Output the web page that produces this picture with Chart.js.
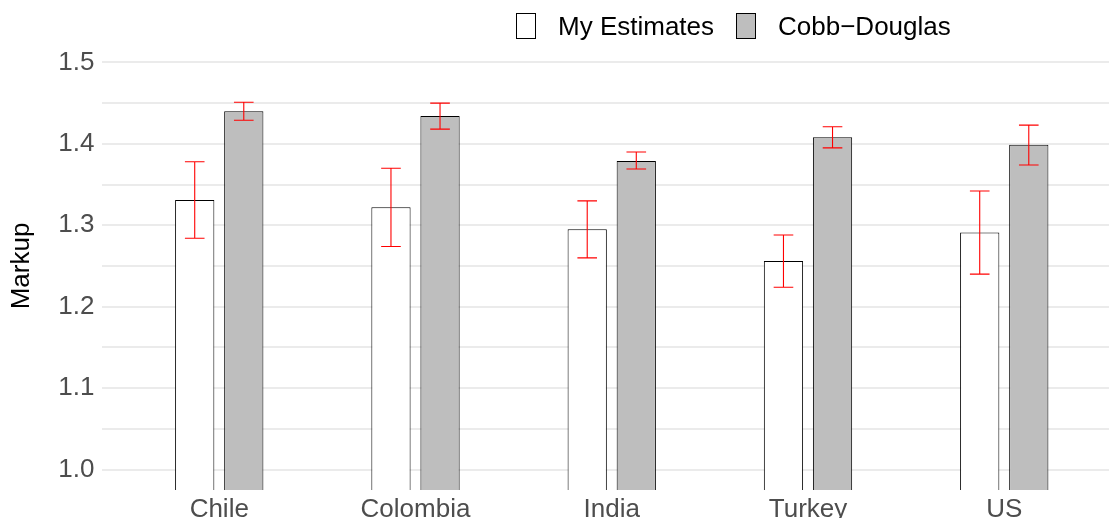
<!DOCTYPE html>
<html lang="en">
<head>
    <meta charset="UTF-8">
    <title>Markup estimates</title>
    <script src="https://cdn.jsdelivr.net/npm/chart.js"></script>
    <style>
        html, body { margin: 0; padding: 0; overflow: hidden; background: #fff; }
        #wrap { position: relative; width: 1122px; height: 530px; }
        #legend {
            position: absolute; top: 13px; left: 516px;
            display: flex; align-items: center;
            font-family: "Liberation Sans", Arial, sans-serif; font-size: 26px; color: #000;
        }
        .key { width: 18px; height: 24px; border: 1px solid #000; margin-right: 22px; }
        .lab { margin-right: 22px; line-height: 26px; }
    </style>
</head>
<body>
<div id="wrap">
    <canvas id="chartCanvas" width="1122" height="530"></canvas>
    <div id="legend"></div>
</div>

<script>
    // Countries and estimated markups
    const countries = ['Chile', 'Colombia', 'India', 'Turkey', 'US'];
    const myEstimates = [1.331, 1.322, 1.295, 1.256, 1.291];
    const myLow  = [1.284, 1.274, 1.260, 1.224, 1.240];
    const myHigh = [1.378, 1.370, 1.330, 1.288, 1.342];
    const cobbDouglas = [1.440, 1.434, 1.379, 1.408, 1.399];
    const cdLow  = [1.429, 1.418, 1.369, 1.395, 1.374];
    const cdHigh = [1.451, 1.450, 1.390, 1.421, 1.423];

    // y grid (major + minor) and labelled ticks
    const yGrid = [1.0, 1.05, 1.1, 1.15, 1.2, 1.25, 1.3, 1.35, 1.4, 1.45, 1.5];
    const seriesNames = ['My Estimates', 'Cobb\u2212Douglas'];
    const seriesFill = ['#FFFFFF', '#BEBEBE'];

    const FONT = '"Liberation Sans", Arial, sans-serif';

    // html legend
    const legendEl = document.getElementById('legend');
    seriesNames.forEach((name, i) => {
        const k = document.createElement('span');
        k.className = 'key';
        k.style.background = seriesFill[i];
        const t = document.createElement('span');
        t.className = 'lab';
        t.textContent = name;
        legendEl.appendChild(k);
        legendEl.appendChild(t);
    });

    // red error bars drawn over each bar
    const errorBars = {
        id: 'errorBars',
        afterDatasetsDraw(chart) {
            const ctx = chart.ctx;
            const y = chart.scales.y;
            const bounds = [[myLow, myHigh], [cdLow, cdHigh]];
            chart.data.datasets.forEach((ds, d) => {
                chart.getDatasetMeta(d).data.forEach((bar, i) => {
                    const lo = y.getPixelForValue(bounds[d][0][i]);
                    const hi = y.getPixelForValue(bounds[d][1][i]);
                    const half = bar.width / 4;
                    const x = bar.x;
                    ctx.save();
                    ctx.strokeStyle = '#FF0000';
                    ctx.lineWidth = 1.1;
                    ctx.beginPath();
                    ctx.moveTo(x, lo); ctx.lineTo(x, hi);
                    ctx.moveTo(x - half, lo); ctx.lineTo(x + half, lo);
                    ctx.moveTo(x - half, hi); ctx.lineTo(x + half, hi);
                    ctx.stroke();
                    ctx.restore();
                });
            });
        }
    };

    const ctx = document.getElementById('chartCanvas').getContext('2d');
    const chart = new Chart(ctx, {
        type: 'bar',
        data: {
            datasets: [
                {
                    label: seriesNames[0],
                    data: myEstimates.map((v, i) => ({ x: i + 1, y: v })),
                    backgroundColor: seriesFill[0],
                    borderColor: '#000000',
                    borderWidth: 1
                },
                {
                    label: seriesNames[1],
                    data: cobbDouglas.map((v, i) => ({ x: i + 1, y: v })),
                    backgroundColor: seriesFill[1],
                    borderColor: '#000000',
                    borderWidth: 1
                }
            ]
        },
        options: {
            responsive: false,
            animation: false,
            categoryPercentage: 0.5,
            barPercentage: 0.8,
            layout: { padding: { top: 42, left: 0, right: 0, bottom: 0 } },
            plugins: {
                legend: { display: false },
                tooltip: { enabled: false }
            },
            scales: {
                x: {
                    type: 'linear',
                    offset: false,
                    min: 0.4,
                    max: 5.6,
                    afterBuildTicks: axis => { axis.ticks = countries.map((c, i) => ({ value: i + 1 })); },
                    afterFit: axis => { axis.height = 40; },
                    grid: { display: false, drawTicks: false, offset: false },
                    border: { display: false },
                    ticks: {
                        autoSkip: false,
                        maxRotation: 0,
                        padding: 4,
                        color: '#4D4D4D',
                        font: { family: FONT, size: 26 },
                        callback: v => countries[v - 1]
                    }
                },
                y: {
                    min: 0.975,
                    max: 1.525,
                    afterBuildTicks: axis => { axis.ticks = yGrid.map(v => ({ value: v })); },
                    afterFit: axis => { axis.width = 101.5; },
                    grid: { color: '#EBEBEB', lineWidth: 2, drawTicks: false },
                    border: { display: false },
                    ticks: {
                        padding: 7,
                        color: '#4D4D4D',
                        font: { family: FONT, size: 26 },
                        callback: v => (Math.abs(v * 10 - Math.round(v * 10)) < 1e-6 ? v.toFixed(1) : '')
                    },
                    title: {
                        display: true,
                        text: 'Markup',
                        color: '#000000',
                        font: { family: FONT, size: 26, lineHeight: 1.2 },
                        padding: { top: 6, bottom: 0 }
                    }
                }
            }
        },
        plugins: [errorBars]
    });
</script>
</body>
</html>
